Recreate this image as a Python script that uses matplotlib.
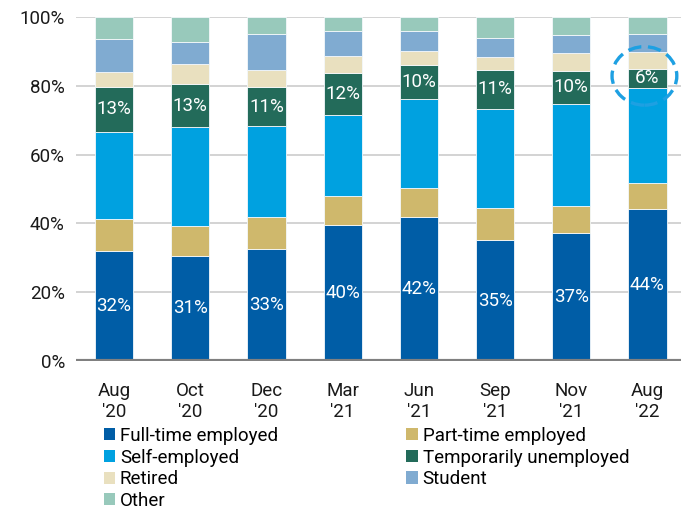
import matplotlib
matplotlib.use("Agg")
import matplotlib.pyplot as plt
from matplotlib.patches import Ellipse, Patch

plt.rcParams["font.family"] = ["Roboto", "DejaVu Sans"]

fechas = ["Aug\n'20", "Oct\n'20", "Dec\n'20", "Mar\n'21", "Jun\n'21", "Sep\n'21", "Nov\n'21", "Aug\n'22"]

full_time = [32.1, 30.6, 32.6, 39.6, 41.9, 35.1, 37.3, 44.3]
part_time = [9.1, 8.5, 9.1, 8.2, 8.4, 9.3, 7.6, 7.5]
self_emp = [25.4, 28.8, 26.5, 23.8, 25.8, 28.8, 29.8, 27.5]
temp_unemp = [13.1, 12.6, 11.3, 12.0, 10.0, 11.4, 9.7, 5.7]
retirado = [4.4, 5.8, 5.1, 4.9, 4.0, 3.6, 5.1, 4.9]
estudiante = [9.6, 6.5, 10.3, 7.5, 5.9, 5.8, 5.1, 5.1]
otro = [6.3, 7.2, 5.1, 4.0, 4.0, 6.0, 5.4, 5.0]

series = [
    ("Full-time employed", full_time, "#005da6"),
    ("Part-time employed", part_time, "#cfb86c"),
    ("Self-employed", self_emp, "#00a1e0"),
    ("Temporarily unemployed", temp_unemp, "#236b5a"),
    ("Retired", retirado, "#e9e0bf"),
    ("Student", estudiante, "#80abd1"),
    ("Other", otro, "#98c9bb"),
]

fig = plt.figure(figsize=(6.81, 5.12), dpi=100)
ax = fig.add_axes([0.1116, 0.295, 0.8884, 0.672])

x = list(range(len(fechas)))
base = [0.0] * len(fechas)
for nombre, vals, color in series:
    ax.bar(x, vals, width=0.5, bottom=base, color=color,
           edgecolor="#f4f8fb", linewidth=0.6, zorder=2)
    if nombre in ("Full-time employed", "Temporarily unemployed"):
        for i, v in enumerate(vals):
            ax.text(x[i], base[i] + v / 2, f"{round(v)}%", color="white",
                    ha="center", va="center", fontsize=13.5, zorder=4)
    base = [b + v for b, v in zip(base, vals)]

# circle around the last temporarily-unemployed value
y0 = full_time[-1] + part_time[-1] + self_emp[-1]
ax.add_patch(Ellipse((6.96, y0 + temp_unemp[-1] / 2 + 0.7), 0.85, 17,
                     fill=False, edgecolor="#1ea0e2", linewidth=2.4,
                     linestyle=(0, (4, 2)), zorder=5, clip_on=False))

ax.set_xlim(-0.5, 7.44)
ax.set_ylim(0, 100)
ax.set_yticks(range(0, 101, 20))
ax.set_yticklabels([f"{t}%" for t in range(0, 101, 20)])
ax.set_xticks(x)
ax.set_xticklabels(fechas, linespacing=1.25)
ax.tick_params(axis="both", length=0, labelsize=13.5, colors="#1a1a1a")
ax.tick_params(axis="x", pad=15)
ax.tick_params(axis="y", pad=8)
ax.grid(axis="y", color="#d0d0d0", linewidth=1.3, zorder=0)
ax.axhline(0, color="#808080", linewidth=3, zorder=3)
for s in ax.spines.values():
    s.set_visible(False)

orden = ["Full-time employed", "Self-employed", "Retired", "Other",
         "Part-time employed", "Temporarily unemployed", "Student"]
colores = {n: c for n, _, c in series}
manijas = [Patch(facecolor=colores[n], edgecolor="none", label=n) for n in orden]
fig.legend(handles=manijas, loc="upper left", bbox_to_anchor=(0.152, 0.166),
           ncol=2, frameon=False, fontsize=13.5, handlelength=0.62,
           handleheight=0.62, handletextpad=0.25, labelspacing=0.19,
           columnspacing=6.85, borderpad=0, borderaxespad=0)

fig.savefig("out.png", dpi=100)
